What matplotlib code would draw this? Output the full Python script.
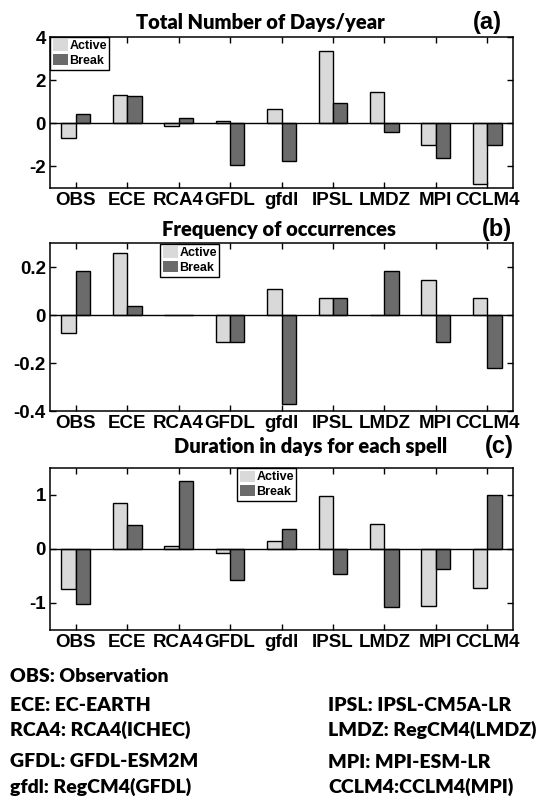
import matplotlib
matplotlib.use("Agg")
import matplotlib.pyplot as plt
from matplotlib.patches import Patch
import numpy as np

plt.rcParams["font.family"] = ["Liberation Sans", "DejaVu Sans"]
plt.rcParams["font.weight"] = "bold"

models = ["OBS", "ECE", "RCA4", "GFDL", "gfdl", "IPSL", "LMDZ", "MPI", "CCLM4"]

days_active = [-0.68, 1.30, -0.11, 0.11, 0.68, 3.36, 1.46, -1.02, -2.81]
days_break = [0.45, 1.27, 0.25, -1.95, -1.77, 0.93, -0.40, -1.63, -1.02]

freq_active = [-0.074, 0.259, 0.0, -0.111, 0.111, 0.074, 0.0, 0.148, 0.074]
freq_break = [0.185, 0.037, 0.0, -0.111, -0.370, 0.074, 0.185, -0.111, -0.222]

dur_active = [-0.75, 0.85, 0.05, -0.08, 0.14, 0.975, 0.46, -1.05, -0.72]
dur_break = [-1.02, 0.44, 1.26, -0.575, 0.37, -0.47, -1.075, -0.37, 0.99]

titles = ["Total Number of Days/year", "Frequency of occurrences",
          "Duration in days for each spell"]
panel_tags = ["(a)", "(b)", "(c)"]

footnotes_left = ["OBS: Observation", "ECE: EC-EARTH", "RCA4: RCA4(ICHEC)",
                  "GFDL: GFDL-ESM2M", "gfdl: RegCM4(GFDL)"]
footnotes_right = ["IPSL: IPSL-CM5A-LR", "LMDZ: RegCM4(LMDZ)",
                   "MPI: MPI-ESM-LR", "CCLM4:CCLM4(MPI)"]

ACTIVE = "#d9d9d9"
BREAK = "#6b6b6b"

W, H = 536, 805
fig = plt.figure(figsize=(W / 100, H / 100), dpi=100)


def px_axes(left, top, right, bottom):
    return fig.add_axes([left / W, 1 - bottom / H, (right - left) / W, (bottom - top) / H])


panels = [
    dict(box=(50, 37, 513, 188), a=days_active, b=days_break, ylim=(-3, 4),
         yt=[-2, 0, 2, 4], ytl=["-2", "0", "2", "4"],
         leg=(50, 37, 108, 68), title=(260, 22), tag=(487, 22)),
    dict(box=(50, 243.5, 513, 411), a=freq_active, b=freq_break, ylim=(-0.4, 0.3),
         yt=[-0.4, -0.2, 0, 0.2], ytl=["-0.4", "-0.2", "0", "0.2"],
         leg=(160, 244, 237, 276), title=(279, 229), tag=(497, 229)),
    dict(box=(50, 467.5, 513, 630), a=dur_active, b=dur_break, ylim=(-1.5, 1.5),
         yt=[-1, 0, 1], ytl=["-1", "0", "1"],
         leg=(237, 468, 299, 499), title=(311, 446), tag=(499, 446)),
]

tick_font = dict(family=["Liberation Sans", "DejaVu Sans"], weight="bold", size=13.5)
x = np.arange(1, len(models) + 1)
bw = 0.28

for i, p in enumerate(panels):
    ax = px_axes(*p["box"])
    ax.bar(x - bw / 2, p["a"], width=bw, color=ACTIVE, edgecolor="black", linewidth=1.0, zorder=2)
    ax.bar(x + bw / 2, p["b"], width=bw, color=BREAK, edgecolor="black", linewidth=1.0, zorder=2)
    ax.axhline(0, color="black", linewidth=1.0, zorder=3)
    ax.set_xlim(0.5, 9.5)
    ax.set_ylim(*p["ylim"])
    ax.set_xticks(x)
    ax.set_xticklabels(models, fontdict=tick_font)
    ax.set_yticks(p["yt"])
    ax.set_yticklabels(p["ytl"], fontdict=tick_font)
    ax.tick_params(direction="in", length=4, width=1, top=True, right=True, pad=3)
    for s in ax.spines.values():
        s.set_linewidth(1.1)

    # legend box
    l, t, r, b = p["leg"]
    handles = [Patch(facecolor=ACTIVE, edgecolor="none"), Patch(facecolor=BREAK, edgecolor="none")]
    leg = ax.legend(handles, ["Active", "Break"], loc="upper left",
                    bbox_to_anchor=((l - p["box"][0]) / (p["box"][2] - p["box"][0]),
                                    1 - (t - p["box"][1]) / (p["box"][3] - p["box"][1])),
                    prop=dict(family=["Liberation Sans", "DejaVu Sans"], weight="bold", size=9),
                    frameon=True, fancybox=False, shadow=False, borderaxespad=0,
                    handlelength=1.2, handleheight=1.0, handletextpad=0.15,
                    borderpad=0.2, labelspacing=0.15)
    leg.get_frame().set_edgecolor("black")
    leg.get_frame().set_linewidth(1.0)
    leg.get_frame().set_alpha(1)

    tx, ty = p["title"]
    fig.text(tx / W, 1 - ty / H, titles[i], ha="center", va="center",
             family=["Lato", "DejaVu Sans"], weight="heavy", size=14.5)
    gx, gy = p["tag"]
    fig.text(gx / W, 1 - gy / H, panel_tags[i], ha="center", va="center",
             family=["Liberation Sans", "DejaVu Sans"], weight="bold", size=17)

# model name key
left_y = [676, 705, 730, 761, 787]
right_y = [705, 730, 762, 787]
for s, yy in zip(footnotes_left, left_y):
    fig.text(10 / W, 1 - yy / H, s, ha="left", va="center",
             family=["Lato", "DejaVu Sans"], weight="heavy", size=14)
for s, yy in zip(footnotes_right, right_y):
    fig.text(328 / W, 1 - yy / H, s, ha="left", va="center",
             family=["Lato", "DejaVu Sans"], weight="heavy", size=14)

fig.savefig("out.png", dpi=100, facecolor="white")
